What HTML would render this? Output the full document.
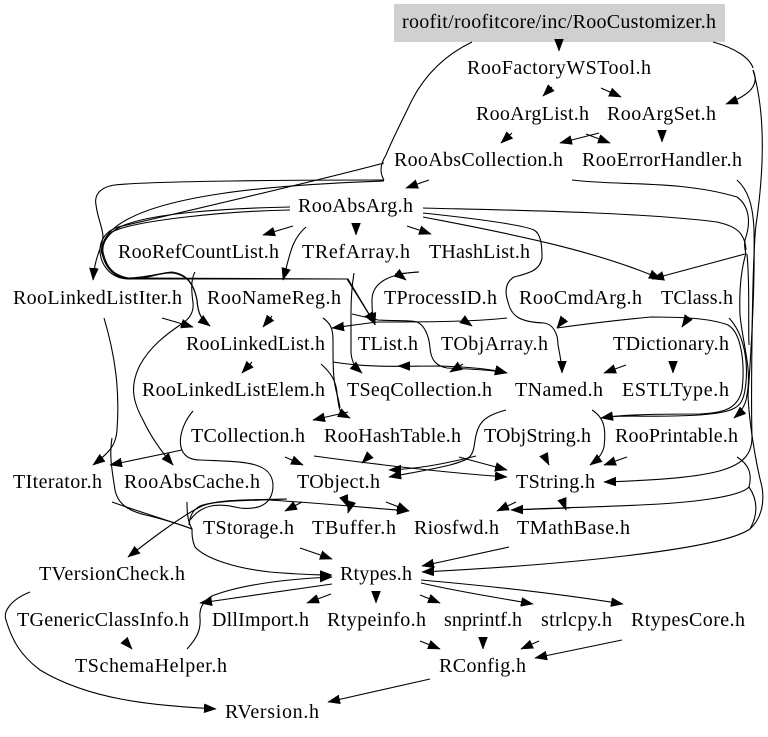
<!DOCTYPE html>
<html>
<head>
<meta charset="utf-8">
<style>
html,body{margin:0;padding:0;background:#fff}
svg{display:block}
text{font-family:"Liberation Serif","Times New Roman",serif;font-size:20px;fill:#000}
path{fill:none;stroke:#000;stroke-width:1.1}
#a path{fill:#000;stroke:#000;stroke-width:.5}
</style>
</head>
<body>
<svg width="768" height="737" viewBox="0 0 768 737" xmlns="http://www.w3.org/2000/svg">
<defs>
<marker id="a" markerUnits="userSpaceOnUse" markerWidth="14" markerHeight="11" refX="12" refY="5" orient="auto">
<path d="M0,0.5 L12,5 L0,9.5 z"/>
</marker>
</defs>
<rect x="394" y="4" width="331" height="38" fill="#d0d0d0"/>

<g>
<!-- short arrows -->
<path marker-end="url(#a)" d="M559,39 L559,51"/>
<path marker-end="url(#a)" d="M552,87 L543,96"/>
<path marker-end="url(#a)" d="M601,88 L621,97"/>
<path marker-end="url(#a)" d="M512,133 L501,143"/>
<path marker-end="url(#a)" d="M586,134 L610,143"/>
<path marker-end="url(#a)" d="M599,133 L560,143"/>
<path marker-end="url(#a)" d="M662,131 L662,142"/>
<path marker-end="url(#a)" d="M429,180 L406,188"/>
<path marker-end="url(#a)" d="M293,226 L263,235"/>
<path marker-end="url(#a)" d="M356,223 L356,235"/>
<path marker-end="url(#a)" d="M407,226 L431,234"/>
<path marker-end="url(#a)" d="M306,227 C291,240 290,255 283,280"/>
<path marker-end="url(#a)" d="M272,316 L263,327"/>
<path marker-end="url(#a)" d="M162,318 L193,327"/>
<path marker-end="url(#a)" d="M252,362 L242,373"/>
<path d="M419,272 L395,274"/>
<path marker-end="url(#a)" d="M397,273 L406,280"/>
<path marker-end="url(#a)" d="M462,319 L472,326"/>
<path marker-end="url(#a)" d="M463,364 L450,372"/>
<path marker-end="url(#a)" d="M410,366 L398,366"/>
<path marker-end="url(#a)" d="M688,318 L682,327"/>
<path marker-end="url(#a)" d="M564,319 L557,328"/>
<path marker-end="url(#a)" d="M626,365 L604,373"/>
<path marker-end="url(#a)" d="M673,362 L673,373"/>
<path marker-end="url(#a)" d="M348,412 L313,420"/>
<path marker-end="url(#a)" d="M182,450 L110,465"/>
<path marker-end="url(#a)" d="M285,457 L303,465"/>
<path marker-end="url(#a)" d="M314,456 C380,465 450,473 507,477"/>
<path marker-end="url(#a)" d="M369,456 L362,463"/>
<path marker-end="url(#a)" d="M459,457 L507,470"/>
<path marker-end="url(#a)" d="M544,455 L549,465"/>
<path marker-end="url(#a)" d="M627,457 L604,465"/>
<path marker-end="url(#a)" d="M562,499 L566,510"/>
<path marker-end="url(#a)" d="M516,502 L497,511"/>
<path marker-end="url(#a)" d="M302,502 L285,511"/>
<path marker-end="url(#a)" d="M344,497 L348,507"/>
<path marker-end="url(#a)" d="M351,503 L348,513"/>
<path marker-end="url(#a)" d="M386,502 L409,511"/>
<path marker-end="url(#a)" d="M268,500 C320,503 370,508 409,511"/>
<path marker-end="url(#a)" d="M300,548 L332,559"/>
<path marker-end="url(#a)" d="M509,547 L422,566"/>
<path marker-end="url(#a)" d="M332,584 L200,603"/>
<path marker-end="url(#a)" d="M331,594 L307,603"/>
<path marker-end="url(#a)" d="M376,592 L376,603"/>
<path marker-end="url(#a)" d="M420,595 L440,603"/>
<path marker-end="url(#a)" d="M421,583 C460,592 500,598 533,604"/>
<path marker-end="url(#a)" d="M421,580 C490,586 560,594 623,604"/>
<path marker-end="url(#a)" d="M420,641 L440,649"/>
<path marker-end="url(#a)" d="M483,638 L483,649"/>
<path marker-end="url(#a)" d="M539,641 L521,649"/>
<path marker-end="url(#a)" d="M622,640 L535,658"/>
<path marker-end="url(#a)" d="M430,679 L328,702"/>
<path marker-end="url(#a)" d="M124,640 L132,649"/>

<!-- root edges -->
<path d="M472,42 C445,55 425,75 412,100 C400,125 392,140 386,155 C381,163 379,172 384,180"/>
<path d="M713,42 C735,48 750,58 753,68"/>
<path marker-end="url(#a)" d="M753,70 C760,85 750,95 726,104"/>
<path marker-end="url(#a)" d="M753,70 C766,115 764,170 756,225 C752,260 751,400 752,437 C752,470 720,478 604,482"/>

<!-- RooAbsArg right edges -->
<path d="M423,208 C500,210 640,212 717,222 C735,226 745,232 746,250"/>
<path marker-end="url(#a)" d="M423,213 C470,218 520,224 534,230 C541,234 542,245 542,258 C540,270 530,273 514,277 C506,282 504,290 508,302 C511,315 518,322 544,323 C552,324 558,332 558,345 C560,355 562,365 562,373"/>
<path marker-end="url(#a)" d="M423,217 C490,230 590,248 661,279"/>
<path marker-end="url(#a)" d="M745,254 L652,279"/>

<!-- collection / error handler right -->
<path d="M572,180 C620,186 680,180 737,197 C748,205 752,220 745,240 C744,245 745,250 746,254"/>
<path marker-end="url(#a)" d="M737,180 C748,190 753,205 754,230 C755,280 752,340 748,395 C749,420 755,460 762,487 C765,505 760,520 750,529 C720,550 560,565 422,572"/>

<!-- class loop lines -->
<path d="M557,328 C600,322 630,319 651,317 C680,317 710,318 728,325 C742,333 745,365 742,390 C738,408 725,413 700,414 C670,414 625,414 601,418"/>
<path marker-end="url(#a)" d="M729,318 C745,335 749,365 745,390 C742,408 735,412 700,415 C650,418 625,414 601,418"/>
<path marker-end="url(#a)" d="M746,253 C741,270 739,290 740,315 C743,345 752,370 747,395 C746,405 741,412 734,418"/>
<path d="M747,254 C750,285 748,320 749,345"/>

<!-- RooPrintable -> Riosfwd -->
<path d="M737,457 C750,465 752,475 749,487 C740,497 690,503 640,505 C600,507 550,508 511,510"/>
<path marker-end="url(#a)" d="M570,508 L511,510"/>
<path d="M749,487 C758,500 758,515 750,529"/>

<!-- left bundle -->
<path marker-end="url(#a)" d="M384,180 C300,180 150,181 115,185 C100,187 94,195 96,205 C98,220 103,228 103,237 C102,248 95,255 93,280"/>
<path d="M384,163 C300,185 170,215 118,227 C106,231 100,240 100,250 C100,262 108,278 128,279 C150,279 160,272 172,273 C188,275 194,285 197,300 C198,315 202,320 210,326"/>
<path marker-end="url(#a)" d="M384,181 C270,185 150,195 112,230 C104,238 101,245 102,252 C104,265 112,278 130,278 L347,279 L375,324"/>
<path marker-end="url(#a)" d="M290,207 C240,208 140,212 115,230 C106,236 102,245 103,252 C106,266 112,275 128,278 C145,278 160,273 172,272 C188,274 194,285 197,300 C198,315 202,320 210,326"/>
<path marker-end="url(#a)" d="M290,210 C230,211 135,220 112,232 C104,238 100,248 102,254 C106,268 114,279 132,279 L348,279 L375,324"/>

<path marker-end="url(#a)" d="M419,272 C395,273 372,280 372,300 C372,308 372,315 375,325"/>
<path marker-end="url(#a)" d="M354,273 C352,285 351,300 351,313 L351,353 C352,362 354,366 362,373"/>
<path marker-end="url(#a)" d="M352,314 L378,320 C395,321 410,320 417,322 C424,325 429,335 430,348 C431,360 436,366 447,368 C470,369 492,370 507,373"/>
<path marker-end="url(#a)" d="M333,362 C370,368 400,366 440,366 C470,367 492,369 507,373"/>
<path marker-end="url(#a)" d="M507,318 C470,322 420,322 378,322 C360,324 348,326 332,328"/>

<!-- RooRefCount -> RooAbsCache -->
<path marker-end="url(#a)" d="M195,272 C190,280 192,295 193,303 C194,312 190,318 183,323 C165,335 150,347 140,365 C130,385 132,400 143,420 C150,435 160,450 173,465"/>

<!-- RooLinkedListIter -> TIterator and below -->
<path marker-end="url(#a)" d="M104,318 C115,355 120,390 117,430 C116,445 110,452 93,465"/>
<path d="M112,438 C109,455 112,470 115,490 C118,505 130,512 150,516 C165,520 180,524 192,529"/>
<path marker-end="url(#a)" d="M112,502 C140,512 170,521 192,529 C192,535 192,540 195,547 C205,558 233,568 270,572 C295,574 315,575 332,575"/>

<!-- Elem wave -->
<path d="M193,411 C178,428 172,460 200,460 C240,462 272,460 273,485 C273,505 258,510 240,508 C225,505 205,500 190,520"/>

<path marker-end="url(#a)" d="M321,364 C330,372 336,380 337,393 C338,402 339,408 340,410 C342,414 346,416 350,418"/>
<path d="M323,318 C330,323 333,328 333,340 C333,360 333,375 335,385 C336,392 339,400 340,408"/>

<path marker-end="url(#a)" d="M506,410 C480,417 477,425 474,447 C472,458 468,460 450,465 C430,470 410,473 389,477"/>
<path marker-end="url(#a)" d="M476,456 C440,465 415,469 389,470"/>
<path marker-end="url(#a)" d="M592,410 C605,418 606,430 604,447 C602,455 597,460 590,465"/>

<!-- bottom left -->
<path marker-end="url(#a)" d="M287,499 C250,500 215,499 200,507 C180,517 150,540 128,557"/>
<path d="M287,499 C250,501 215,500 200,506 C193,510 190,515 189,525"/>
<path d="M187,502 C187,510 187,520 192,529"/>
<path marker-end="url(#a)" d="M187,649 C197,638 201,630 200,618 C199,608 203,601 212,596 C240,585 285,579 332,577"/>
<path marker-end="url(#a)" d="M30,592 C10,600 3,612 6,620 C12,640 20,655 40,670 C90,700 150,705 216,709"/>
</g>

<g>
<text x="402" y="28" textLength="314" lengthAdjust="spacing">roofit/roofitcore/inc/RooCustomizer.h</text>
<text x="467" y="74" textLength="184">RooFactoryWSTool.h</text>
<text x="476" y="120" textLength="113">RooArgList.h</text>
<text x="607" y="120" textLength="109">RooArgSet.h</text>
<text x="394" y="166" textLength="169">RooAbsCollection.h</text>
<text x="582" y="166" textLength="160">RooErrorHandler.h</text>
<text x="298" y="212" textLength="115">RooAbsArg.h</text>
<text x="118" y="258" textLength="161">RooRefCountList.h</text>
<text x="302" y="258" textLength="108">TRefArray.h</text>
<text x="429" y="258" textLength="101">THashList.h</text>
<text x="13" y="304" textLength="169">RooLinkedListIter.h</text>
<text x="207" y="304" textLength="134">RooNameReg.h</text>
<text x="384" y="304" textLength="113">TProcessID.h</text>
<text x="519" y="304" textLength="123">RooCmdArg.h</text>
<text x="661" y="304" textLength="72">TClass.h</text>
<text x="186" y="350" textLength="139">RooLinkedList.h</text>
<text x="358" y="350" textLength="60">TList.h</text>
<text x="441" y="350" textLength="107">TObjArray.h</text>
<text x="613" y="350" textLength="116">TDictionary.h</text>
<text x="142" y="396" textLength="183">RooLinkedListElem.h</text>
<text x="347" y="396" textLength="145">TSeqCollection.h</text>
<text x="515" y="396" textLength="88">TNamed.h</text>
<text x="622" y="396" textLength="107">ESTLType.h</text>
<text x="191" y="442" textLength="114">TCollection.h</text>
<text x="324" y="442" textLength="137">RooHashTable.h</text>
<text x="484" y="442" textLength="107">TObjString.h</text>
<text x="615" y="442" textLength="123">RooPrintable.h</text>
<text x="13" y="488" textLength="89">TIterator.h</text>
<text x="124" y="488" textLength="136">RooAbsCache.h</text>
<text x="297" y="488" textLength="83">TObject.h</text>
<text x="516" y="488" textLength="79">TString.h</text>
<text x="203" y="534" textLength="91">TStorage.h</text>
<text x="312" y="534" textLength="84">TBuffer.h</text>
<text x="414" y="534" textLength="85">Riosfwd.h</text>
<text x="517" y="534" textLength="113">TMathBase.h</text>
<text x="39" y="580" textLength="146">TVersionCheck.h</text>
<text x="340" y="580" textLength="72">Rtypes.h</text>
<text x="17" y="626" textLength="172">TGenericClassInfo.h</text>
<text x="212" y="626" textLength="97">DllImport.h</text>
<text x="327" y="626" textLength="99">Rtypeinfo.h</text>
<text x="444" y="626" textLength="78">snprintf.h</text>
<text x="541" y="626" textLength="71">strlcpy.h</text>
<text x="631" y="626" textLength="114">RtypesCore.h</text>
<text x="75" y="672" textLength="152">TSchemaHelper.h</text>
<text x="439" y="672" textLength="87">RConfig.h</text>
<text x="225" y="718" textLength="94">RVersion.h</text>
</g>
</svg>
</body>
</html>
